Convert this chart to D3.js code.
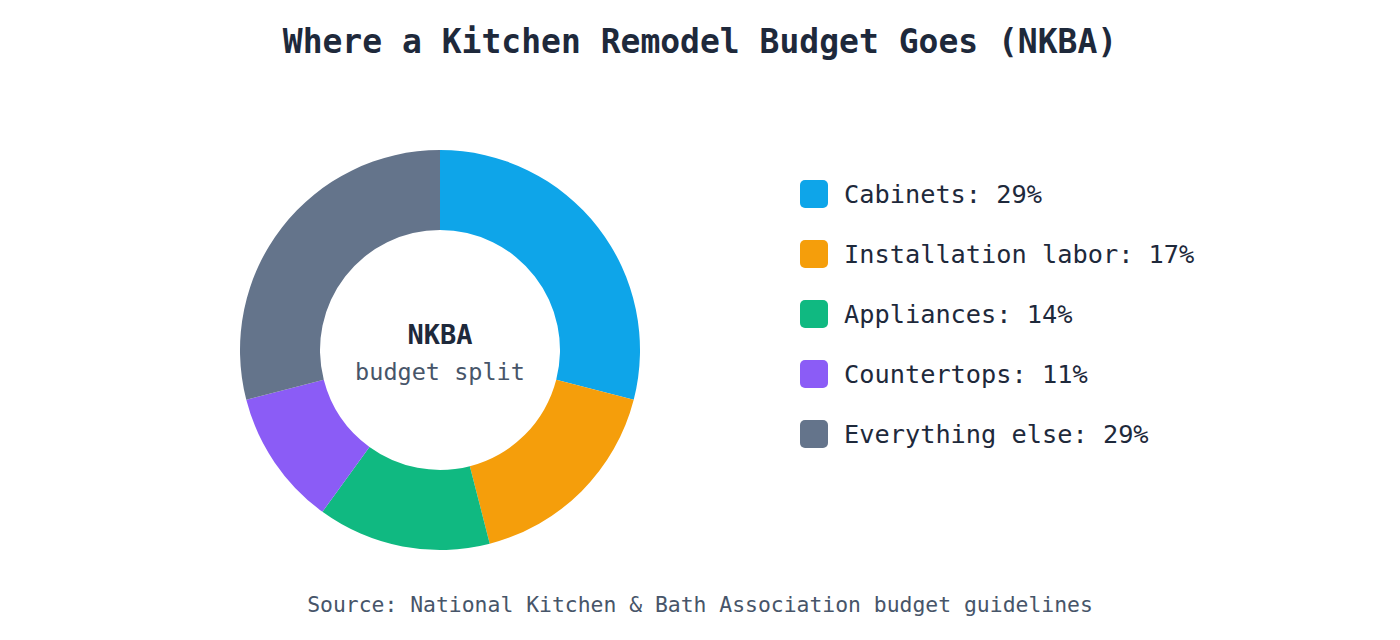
<!DOCTYPE html>
<html lang="en">
<head>
    <meta charset="UTF-8">
    <title>Where a Kitchen Remodel Budget Goes (NKBA)</title>
    <script src="https://d3js.org/d3.v7.min.js"></script>
    <style>
        body {
            margin: 0;
            background: #fff;
            font-family: "DejaVu Sans Mono", monospace;
        }
    </style>
</head>
<body>
    <div id="chart"></div>

    <script>
        // budget shares
        const categories = ["Cabinets", "Installation labor", "Appliances", "Countertops", "Everything else"];
        const shares = [29, 17, 14, 11, 29];
        const colors = ["#0ea5e9", "#f59e0b", "#10b981", "#8b5cf6", "#64748b"];

        const width = 1400, height = 640;

        const svg = d3.select("#chart")
            .append("svg")
            .attr("width", width)
            .attr("height", height);

        svg.append("text")
            .attr("x", 700)
            .attr("y", 53)
            .attr("text-anchor", "middle")
            .style("font-size", "33px")
            .style("font-weight", "bold")
            .style("fill", "#1e293b")
            .text("Where a Kitchen Remodel Budget Goes (NKBA)");

        const data = categories.map((c, i) => ({ name: c, value: shares[i], color: colors[i] }));

        const pie = d3.pie()
            .value(d => d.value)
            .sort(null);

        const arc = d3.arc()
            .innerRadius(120)
            .outerRadius(200);

        const g = svg.append("g")
            .attr("transform", "translate(440,350)");

        g.selectAll("path")
            .data(pie(data))
            .enter().append("path")
            .attr("d", arc)
            .style("fill", d => d.data.color);

        g.append("text")
            .attr("y", -6)
            .attr("text-anchor", "middle")
            .style("font-size", "27px")
            .style("font-weight", "bold")
            .style("fill", "#1e293b")
            .text("NKBA");

        g.append("text")
            .attr("y", 30)
            .attr("text-anchor", "middle")
            .style("font-size", "23.5px")
            .style("fill", "#475569")
            .text("budget split");

        // legend
        const y = d3.scaleBand()
            .domain(categories)
            .range([164, 464]);

        const legend = svg.append("g")
            .selectAll("g")
            .data(data)
            .enter().append("g")
            .attr("transform", d => `translate(800,${y(d.name) + y.bandwidth() / 2})`);

        legend.append("rect")
            .attr("y", -14)
            .attr("width", 28)
            .attr("height", 28)
            .attr("rx", 5)
            .style("fill", d => d.color);

        legend.append("text")
            .attr("x", 44)
            .attr("y", 9)
            .style("font-size", "25.3px")
            .style("fill", "#1e293b")
            .text(d => `${d.name}: ${d.value}%`);

        svg.append("text")
            .attr("x", 700)
            .attr("y", 612)
            .attr("text-anchor", "middle")
            .style("font-size", "21.4px")
            .style("fill", "#475569")
            .text("Source: National Kitchen & Bath Association budget guidelines");
    </script>
</body>
</html>
